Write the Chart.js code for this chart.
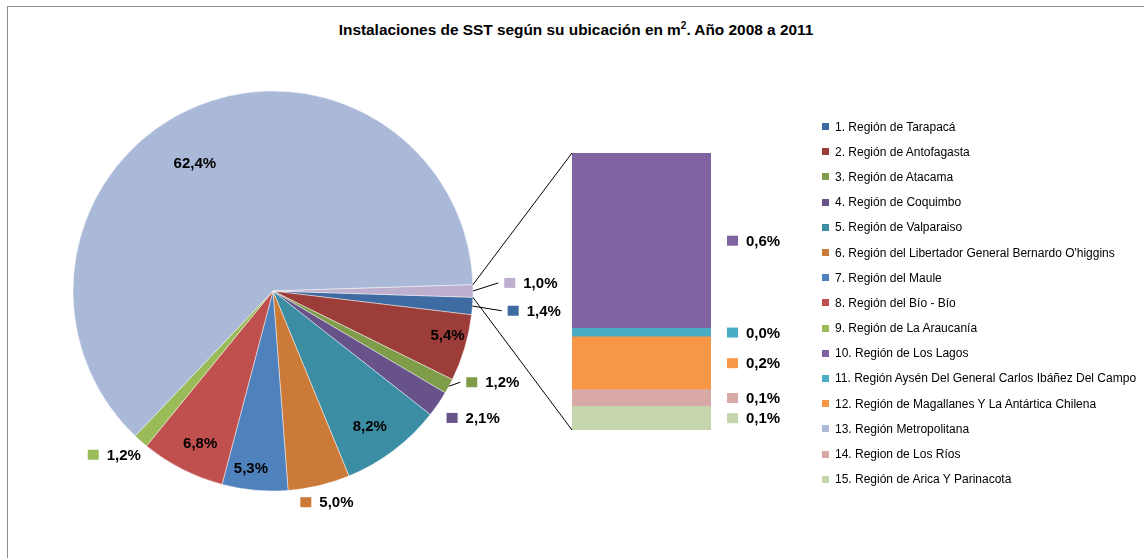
<!DOCTYPE html>
<html lang="es">
<head>
<meta charset="utf-8">
<title>Instalaciones de SST según su ubicación en m²</title>
<script src="https://cdn.jsdelivr.net/npm/chart.js@4.4.1/dist/chart.umd.min.js"></script>
<style>
  html, body { margin:0; padding:0; background:#fff; }
  #wrap { position:relative; width:1144px; height:558px; overflow:hidden; }
  #frame { position:absolute; left:7px; top:6px; width:1200px; height:600px; border-left:1px solid #8c8c8c; border-top:1px solid #8c8c8c; }
  #title { position:absolute; left:0; width:1152px; top:20px; text-align:center; font-family:"Liberation Sans Narrow","Liberation Sans",Arial,sans-serif; font-weight:bold; font-size:15.4px; color:#000; }
  canvas { position:absolute; left:0; top:0; }
  #legend { position:absolute; left:822px; top:114px; font-family:"Liberation Sans",Arial,sans-serif; font-size:12px; color:#000; }
  .item { height:25.2px; display:flex; align-items:center; white-space:nowrap; }
  .sw { width:7px; height:7px; margin-right:6px; flex:none; }
</style>
</head>
<body>
<div id="wrap">
  <div id="frame"></div>
  <div id="title">Instalaciones de SST según su ubicación en m<sup style="font-size:10px">2</sup>. Año 2008 a 2011</div>
  <canvas id="pie" width="1144" height="558"></canvas>
  <canvas id="bar" width="1144" height="558"></canvas>
  <div id="legend"></div>
</div>
<script>
// ---- data (percent of m²) ----
const pieLabels = ['1. Región de Tarapacá', '2. Región de Antofagasta', '3. Región de Atacama', '4. Región de Coquimbo',
  '5. Región de Valparaiso', "6. Región del Libertador General Bernardo O'higgins", '7. Región del Maule',
  '8. Región del Bío - Bío', '9. Región de La Araucanía', '13. Región Metropolitana', 'Otros'];
const pieValues = [1.4, 5.4, 1.2, 2.1, 8.2, 5.0, 5.3, 6.8, 1.2, 62.4, 1.0];

const barLabels = ['10. Región de Los Lagos', '11. Región Aysén Del General Carlos Ibáñez Del Campo',
  '12. Región de Magallanes Y La Antártica Chilena', '14. Region de Los Ríos', '15. Región de Arica Y Parinacota'];
const barValues = [0.63, 0.03, 0.19, 0.06, 0.085];

const legendLabels = pieLabels.slice(0, 9).concat(barLabels.slice(0, 3), [pieLabels[9]], barLabels.slice(3));

// ---- colours ----
const regionColors = {
  '1': '#3e6ba1', '2': '#9d3d3a', '3': '#7f9d48', '4': '#67528a', '5': '#3b8da4', '6': '#cc7a38',
  '7': '#4f81bd', '8': '#c0504d', '9': '#9bbb59', '10': '#8064a2', '11': '#4bacc6', '12': '#f79646',
  '13': '#aab9d7', '14': '#d9a9a8', '15': '#c5d6ad', 'Otros': '#bcb0ce'
};
const colorOf = name => regionColors[name.split('.')[0]];

const fmt = v => v.toFixed(1).replace('.', ',') + '%';
const labelFont = 'bold 15px "Liberation Sans", Arial, sans-serif';

// label placement for each pie slice (r: fraction of radius, da: angle shift in deg)
const pieLabelLayout = [
  {out:true, r:1.31, da:0, leader:true},
  {r:0.9, da:-2.4},
  {out:true, r:1.19, da:-5.9, leader:true},
  {out:true, r:1.185, da:-2},
  {r:0.83, da:1.4},
  {out:true, r:1.09, da:-1},
  {r:0.89, da:1.9},
  {r:0.84, da:-1.3},
  {out:true, r:1.14, da:2.7},
  {r:0.75, da:-7.3},
  {out:true, r:1.29, da:-1.8, leader:true}
];

function boxedLabel(ctx, cx, cy, color, txt) {
  ctx.font = labelFont;
  const tw = ctx.measureText(txt).width;
  const left = cx - (19 + tw) / 2;
  ctx.fillStyle = color;
  ctx.fillRect(left, cy - 5, 11, 10);
  ctx.fillStyle = '#000';
  ctx.textAlign = 'left';
  ctx.textBaseline = 'middle';
  ctx.fillText(txt, left + 19, cy + 1);
  return left;
}

const pieLabelPlugin = {
  id: 'pieLabels',
  afterDatasetsDraw(chart) {
    const ctx = chart.ctx;
    ctx.save();
    chart.getDatasetMeta(0).data.forEach((arc, i) => {
      const lay = pieLabelLayout[i];
      const mid = (arc.startAngle + arc.endAngle) / 2;
      const a = mid + lay.da * Math.PI / 180;
      const lx = arc.x + Math.cos(a) * arc.outerRadius * lay.r;
      const ly = arc.y + Math.sin(a) * arc.outerRadius * lay.r;
      const txt = fmt(pieValues[i]);
      if (lay.out) {
        const left = boxedLabel(ctx, lx, ly, colorOf(pieLabels[i]), txt);
        if (lay.leader) {
          ctx.strokeStyle = '#000';
          ctx.lineWidth = 1;
          ctx.beginPath();
          ctx.moveTo(arc.x + Math.cos(mid) * arc.outerRadius, arc.y + Math.sin(mid) * arc.outerRadius);
          ctx.lineTo(left - 6, ly);
          ctx.stroke();
        }
      } else {
        ctx.font = labelFont;
        ctx.fillStyle = '#000';
        ctx.textAlign = 'center';
        ctx.textBaseline = 'middle';
        ctx.fillText(txt, lx, ly + 1);
      }
    });
    ctx.restore();
  }
};

const pieTotal = pieValues.reduce((s, v) => s + v, 0);
const pieChart = new Chart(document.getElementById('pie'), {
  type: 'pie',
  data: {
    labels: pieLabels,
    datasets: [{
      data: pieValues,
      backgroundColor: pieLabels.map(colorOf),
      borderColor: 'rgba(255,255,255,0.45)',
      borderWidth: 1
    }]
  },
  options: {
    responsive: false,
    animation: false,
    events: [],
    radius: 200,
    rotation: 90 + pieValues[pieValues.length - 1] / pieTotal * 180,
    layout: { padding: { left: 73, top: 91, right: 671, bottom: 67 } },
    plugins: { legend: { display: false }, tooltip: { enabled: false } }
  },
  plugins: [pieLabelPlugin]
});

// bar of pie: stacked, first dataset at the bottom
const barOrder = barLabels.map((_, i) => i).reverse();
const barTotal = barValues.reduce((s, v) => s + v, 0);

const barExtrasPlugin = {
  id: 'barExtras',
  afterDraw(chart) {
    const ctx = chart.ctx;
    ctx.save();
    // connector lines from the "Otros" slice to the bar
    const other = pieChart.getDatasetMeta(0).data[pieValues.length - 1];
    const top = chart.getDatasetMeta(chart.data.datasets.length - 1).data[0];
    const bottom = chart.getDatasetMeta(0).data[0];
    const barLeft = top.x - top.width / 2;
    ctx.strokeStyle = '#000';
    ctx.lineWidth = 1;
    ctx.beginPath();
    ctx.moveTo(other.x + Math.cos(other.startAngle) * other.outerRadius, other.y + Math.sin(other.startAngle) * other.outerRadius);
    ctx.lineTo(barLeft, top.y);
    ctx.moveTo(other.x + Math.cos(other.endAngle) * other.outerRadius, other.y + Math.sin(other.endAngle) * other.outerRadius);
    ctx.lineTo(barLeft, bottom.base);
    ctx.stroke();
    // value labels right of the bar
    chart.data.datasets.forEach((ds, di) => {
      const el = chart.getDatasetMeta(di).data[0];
      const cy = (el.y + el.base) / 2;
      ctx.font = labelFont;
      const tw = ctx.measureText(fmt(ds.data[0])).width;
      boxedLabel(ctx, chart.chartArea.right + 16 + (19 + tw) / 2, cy, ds.backgroundColor, fmt(ds.data[0]));
    });
    ctx.restore();
  }
};

new Chart(document.getElementById('bar'), {
  type: 'bar',
  data: {
    labels: ['Otros'],
    datasets: barOrder.map(i => ({
      label: barLabels[i],
      data: [barValues[i]],
      backgroundColor: colorOf(barLabels[i]),
      borderWidth: 0,
      barPercentage: 1,
      categoryPercentage: 1
    }))
  },
  options: {
    responsive: false,
    animation: false,
    events: [],
    layout: { padding: { left: 572, top: 153, right: 433, bottom: 128 } },
    scales: {
      x: { stacked: true, display: false },
      y: { stacked: true, display: false, min: 0, max: barTotal }
    },
    plugins: { legend: { display: false }, tooltip: { enabled: false } }
  },
  plugins: [barExtrasPlugin]
});

// legend
document.getElementById('legend').innerHTML = legendLabels.map(l =>
  `<div class="item"><span class="sw" style="background:${colorOf(l)}"></span>${l}</div>`).join('');
</script>
</body>
</html>
